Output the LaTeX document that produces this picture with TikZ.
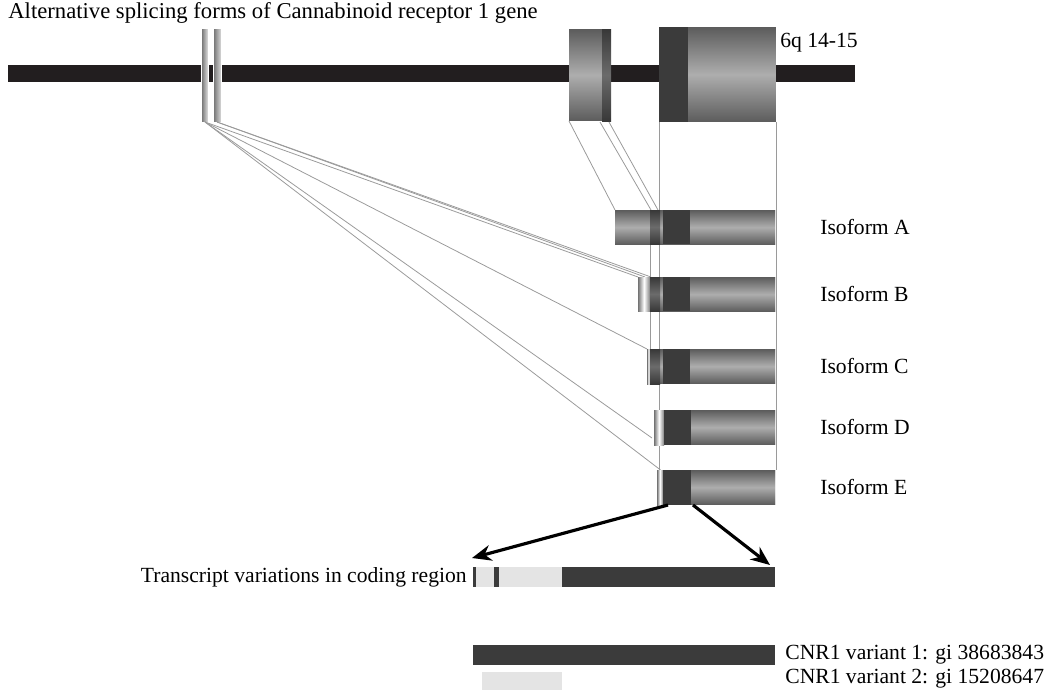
\documentclass[tikz,border=0pt]{standalone}
\usepackage{fontspec}
\setmainfont{Liberation Serif}
\usetikzlibrary{arrows.meta, positioning}
\definecolor{chrom}{HTML}{221E1F}
\definecolor{coding}{HTML}{3B3B3B}
\definecolor{utr}{HTML}{E4E4E4}
\definecolor{projgray}{HTML}{9A9A9A}

\begin{document}
\begin{tikzpicture}[x=0.02cm, y=-0.02cm,
    txt/.style={font=\fontsize{12.3}{14}\selectfont, inner sep=0pt},
    exon/.style={top color=black!64, bottom color=black!64, middle color=black!32},
    band/.style={top color=black!78, bottom color=black!78, middle color=black!58},
    edge/.style={left color=black!55, right color=black!50, middle color=white},
    strip/.style={left color=black!55, right color=black!12, draw=white, line width=0.5pt},
    isobar/.style={exon, inner sep=0pt, outer sep=0pt, minimum height=0.69cm, anchor=north east},
    proj/.style={draw=projgray, line width=0.45pt},
    bigarrow/.style={-{Stealth[length=11pt,width=9pt]}, line width=1.8pt}]
  \useasboundingbox (0,0) rectangle (1049,691);

  % Gene on chromosome 6
  \node[txt, anchor=west, font=\fontsize{12.9}{15}\selectfont] (title) at (8,13)
    {Alternative splicing forms of Cannabinoid receptor 1 gene};
  \fill[chrom] (8,65) rectangle (855,82);
  \node[txt, anchor=west] (locus) at (780,43) {6q 14-15};
  \shade[strip] (201.5,28) rectangle (208,122);
  \shade[strip] (213.5,28) rectangle (221.5,122);
  \coordinate (s1) at (205,122);
  \coordinate (s2) at (217,122);
  \node[exon, inner sep=0pt, outer sep=0pt, minimum width=0.84cm, minimum height=1.84cm,
        anchor=north west] (ex2) at (569,29) {};
  \shade[band] (602,29) rectangle (611,121);
  \node[exon, inner sep=0pt, outer sep=0pt, minimum width=2.34cm, minimum height=1.9cm,
        anchor=north west] (ex3) at (659,27) {};
  \fill[coding] (659,27) rectangle (688,122);

  % Isoform bars
  \node[isobar, minimum width=3.2cm]  (isoA) at (775,210) {};
  \node[isobar, minimum width=2.74cm] (isoB) at (775,277) {};
  \node[isobar, minimum width=2.56cm] (isoC) at (775,349) {};
  \node[isobar, minimum width=2.42cm] (isoD) at (775,410) {};
  \node[isobar, minimum width=2.36cm] (isoE) at (775,470) {};

  % Projection lines
  \coordinate (a1) at (600,122);
  \coordinate (a2) at (609,122);
  \coordinate (b1) at (651,210);
  \coordinate (b2) at (658,210);
  \coordinate (d1) at (652,438);
  \coordinate (c1) at (650.5,244);
  \coordinate (c2) at (650.5,349);
  \coordinate (sB1) at (645,277);
  \coordinate (sB2) at (651,277);
  \draw[proj] (ex2.south west) -- (isoA.north west);
  \draw[proj] (a1) -- (b1);
  \draw[proj] (a2) -- (b2);
  \draw[proj] ([xshift=0.5pt]ex3.south west) -- ([xshift=0.5pt]ex3.south west |- isoE.north);
  \draw[proj] (ex3.south east) -- (ex3.south east |- isoE.north);
  \draw[proj] (c1) -- (c2);
  \draw[proj] (s1) -- (isoB.north west);
  \draw[proj] (s2) -- (sB1);
  \draw[proj] (s2) -- (sB2);
  \draw[proj] (s1) -- (isoC.north west);
  \draw[proj] (s1) -- (d1);
  \draw[proj] (s1) -- ([xshift=2pt]isoE.north west);

  % Redraw bars over the lines
  \foreach \iso in {isoA,isoB,isoC,isoD,isoE}
    \shade[exon] (\iso.south west) rectangle (\iso.north east);
  \shade[band] (650,210) rectangle (660,244);
  \fill[coding] (663,210) rectangle (690,244);
  \shade[edge] (638,277) rectangle (650,311);
  \shade[band] (650,277) rectangle (660,311);
  \fill[coding] (663,277) rectangle (690,311);
  \shade[edge] (647,349) rectangle (650,384);
  \shade[band] (650,349) rectangle (660,384);
  \fill[coding] (663,349) rectangle (690,384);
  \shade[edge] (654,410) rectangle (664,445);
  \fill[coding] (664,410) rectangle (691,445);
  \shade[edge] (657,470) rectangle (663,505);
  \fill[coding] (663,470) rectangle (691,505);
  \node[txt, right=0.9cm of isoA] {Isoform A};
  \node[txt, right=0.9cm of isoB] {Isoform B};
  \node[txt, right=0.9cm of isoC] {Isoform C};
  \node[txt, right=0.9cm of isoD] {Isoform D};
  \node[txt, right=0.9cm of isoE] {Isoform E};

  % Coding region
  \node[fill=utr, inner sep=0pt, outer sep=0pt, minimum width=6.04cm, minimum height=0.4cm,
        anchor=north west] (trans) at (473,567) {};
  \fill[coding] (473,567) rectangle (476,587);
  \fill[coding] (494,567) rectangle (499,587);
  \fill[coding] (562,567) rectangle (775,587);
  \node[txt, left=0.12cm of trans] {Transcript variations in coding region};
  \coordinate (eL) at (668,505);
  \coordinate (eR) at (693,505);
  \coordinate (tL) at (472,558);
  \coordinate (tR) at (770,565);
  \draw[bigarrow] (eL) -- (tL);
  \draw[bigarrow] (eR) -- (tR);

  % Variants
  \node[fill=coding, inner sep=0pt, outer sep=0pt, minimum width=6.04cm, minimum height=0.4cm,
        anchor=north west] (var1) at (473,645) {};
  \node[fill=utr, inner sep=0pt, outer sep=0pt, minimum width=1.6cm, minimum height=0.36cm,
        anchor=north west] (var2) at (482,672) {};
  \node[txt, anchor=west] (v1lab) at (785,655) {CNR1 variant 1: gi 38683843};
  \node[txt, anchor=west] (v2lab) at (785,679) {CNR1 variant 2: gi 15208647};
\end{tikzpicture}
\end{document}
